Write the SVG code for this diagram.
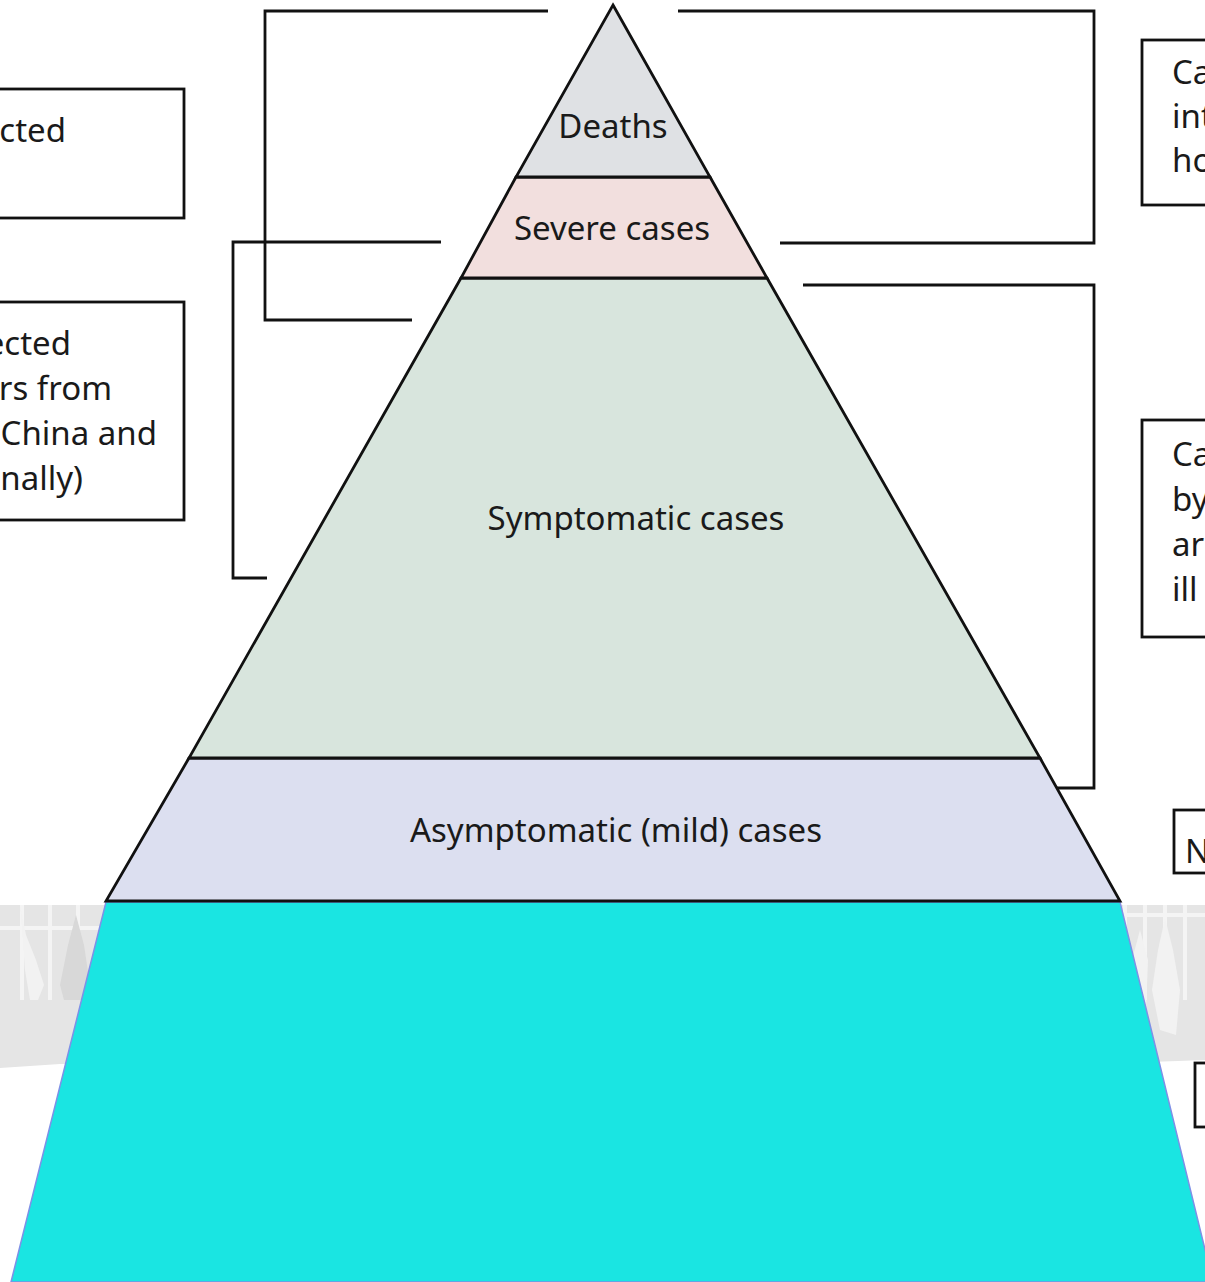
<svg xmlns="http://www.w3.org/2000/svg" width="1205" height="1282" viewBox="0 0 1205 1282">
<style>
.lbl{font-family:"Noto Sans","Open Sans","DejaVu Sans",sans-serif;font-size:33px;fill:#1a1a1a}
.br{fill:none;stroke:#111;stroke-width:2.8}
.box{fill:#fff;stroke:#111;stroke-width:2.8}
.lvl{stroke:#111;stroke-width:2.8;stroke-linejoin:miter}
.fence{stroke:#f4f4f4;stroke-width:4}
</style>
<rect width="1205" height="1282" fill="#fff"/>
<g id="background">
<polygon points="0,905 1205,905 1205,1060 1150,1062 60,1064 0,1068" fill="#e5e5e5"/>
<line class="fence" x1="22" y1="905" x2="22" y2="1000"/>
<line class="fence" x1="50" y1="905" x2="50" y2="1000"/>
<line class="fence" x1="78" y1="905" x2="78" y2="1000"/>
<line class="fence" x1="0" y1="928" x2="100" y2="928"/>
<path d="M20,905 L26,935 L36,960 L44,985 L38,1000 L30,1000 L25,970 Z" fill="#f2f2f2"/>
<path d="M76,915 L84,945 L90,985 L84,1000 L64,1000 L60,985 L68,945 Z" fill="#d8d8d8"/>
<line class="fence" x1="1125" y1="905" x2="1125" y2="1000"/>
<line class="fence" x1="1145" y1="905" x2="1145" y2="1000"/>
<line class="fence" x1="1165" y1="905" x2="1165" y2="1010"/>
<line class="fence" x1="1185" y1="905" x2="1185" y2="1000"/>
<line class="fence" x1="1120" y1="915" x2="1205" y2="915"/>
<path d="M1165,918 L1173,950 L1180,990 L1176,1035 L1160,1030 L1152,990 L1158,950 Z" fill="#f2f2f2"/>
<path d="M1140,930 L1148,960 L1146,1010 L1136,1010 L1132,960 Z" fill="#f2f2f2"/>
</g>
<g id="connectors">
<polyline class="br" points="548,11 265,11 265,320 412,320"/>
<polyline class="br" points="441,242 233,242 233,578 267,578"/>
<polyline class="br" points="678,11 1094,11 1094,243 780,243"/>
<polyline class="br" points="803,285 1094,285 1094,788 1053,788"/>
</g>
<g id="iceberg">
<polygon points="106,902 1120,902 1213,1282 11,1282" fill="#1ae5e2" stroke="#7f8fe6" stroke-width="1.5"/>
</g>
<g id="asymptomatic">
<polygon class="lvl" points="189,758 1040,758 1120,901 106,901" fill="#dcdff0"/>
<text class="lbl" x="616" y="842" text-anchor="middle">Asymptomatic (mild) cases</text>
</g>
<g id="symptomatic">
<polygon class="lvl" points="461,278 767,278 1040,758 189,758" fill="#d8e5dd"/>
<text class="lbl" x="636" y="530" text-anchor="middle">Symptomatic cases</text>
</g>
<g id="severe">
<polygon class="lvl" points="516,177 710,177 767,278 461,278" fill="#f2dfde"/>
<text class="lbl" x="612" y="240" text-anchor="middle">Severe cases</text>
</g>
<g id="deaths">
<polygon class="lvl" points="613,5 710,177 516,177" fill="#dfe1e4"/>
<text class="lbl" x="613" y="138" text-anchor="middle">Deaths</text>
</g>
<g id="box-left-1">
<rect class="box" x="-10" y="89" width="194" height="129"/>
<text class="lbl" x="66" y="142" text-anchor="end">cted</text>
</g>
<g id="box-left-2">
<rect class="box" x="-10" y="302" width="194" height="218"/>
<text class="lbl" text-anchor="end"><tspan x="71" y="355">ected</tspan><tspan x="112" y="400">ers from</tspan><tspan x="157" y="445">n China and</tspan><tspan x="83" y="490">nally)</tspan></text>
</g>
<g id="box-right-1">
<rect class="box" x="1142" y="40" width="80" height="165"/>
<text class="lbl"><tspan x="1172" y="84">Ca</tspan><tspan x="1172" y="128">int</tspan><tspan x="1172" y="172">ho</tspan></text>
</g>
<g id="box-right-2">
<rect class="box" x="1142" y="420" width="80" height="217"/>
<text class="lbl"><tspan x="1172" y="466">Ca</tspan><tspan x="1172" y="511">by</tspan><tspan x="1172" y="556">ar</tspan><tspan x="1172" y="601">ill</tspan></text>
</g>
<g id="box-right-3">
<rect class="box" x="1174" y="810" width="50" height="63"/>
<text class="lbl" x="1185" y="863">N</text>
</g>
<g id="box-right-4">
<rect class="box" x="1195" y="1063" width="30" height="64"/>
</g>
</svg>
